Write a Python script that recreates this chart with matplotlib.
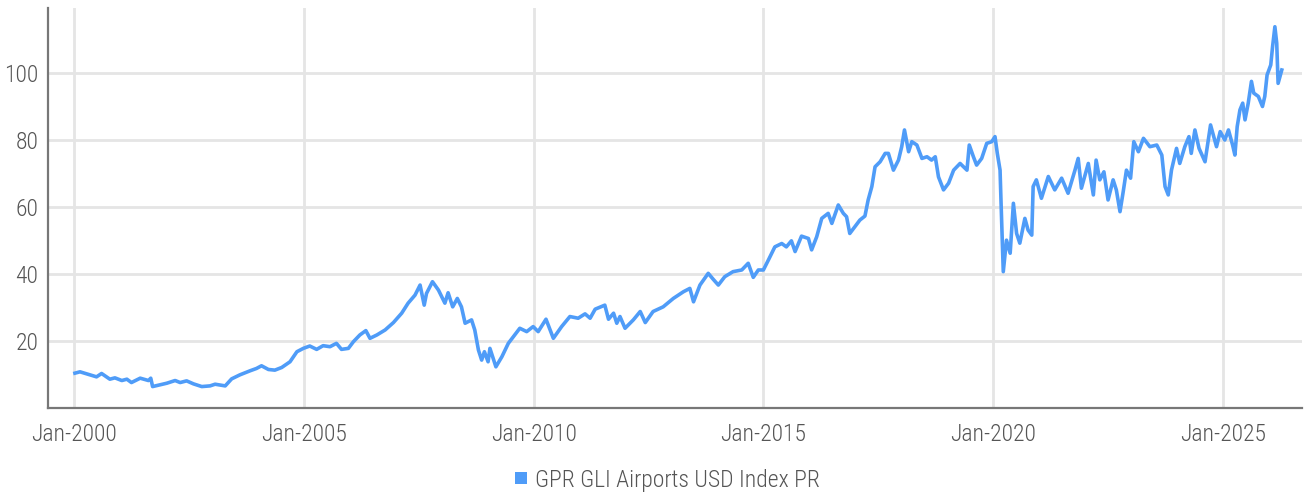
import matplotlib
matplotlib.use("Agg")
import matplotlib.pyplot as plt
from matplotlib import font_manager
from matplotlib.lines import Line2D

# GPR GLI Airports USD Index PR (decimal years)
years = [
    2000.02, 2000.13, 2000.35, 2000.49, 2000.60, 2000.78, 2000.89, 2001.04, 2001.15, 2001.25,
    2001.44, 2001.62, 2001.67, 2001.71, 2001.87, 2002.02, 2002.20, 2002.31, 2002.45, 2002.60,
    2002.78, 2002.96, 2003.07, 2003.29, 2003.43, 2003.61, 2003.83, 2003.97, 2004.08, 2004.23,
    2004.37, 2004.52, 2004.70, 2004.85, 2004.99, 2005.13, 2005.28, 2005.42, 2005.57, 2005.71,
    2005.82, 2005.97, 2006.08, 2006.22, 2006.35, 2006.44, 2006.59, 2006.77, 2006.95, 2007.13,
    2007.27, 2007.42, 2007.53, 2007.62, 2007.67, 2007.80, 2007.93, 2008.07, 2008.14, 2008.24,
    2008.34, 2008.43, 2008.51, 2008.65, 2008.72, 2008.80, 2008.87, 2008.93, 2009.01, 2009.05,
    2009.18, 2009.31, 2009.45, 2009.56, 2009.70, 2009.85, 2009.99, 2010.10, 2010.27, 2010.43,
    2010.61, 2010.79, 2010.97, 2011.12, 2011.23, 2011.34, 2011.55, 2011.63, 2011.74, 2011.81,
    2011.88, 2011.99, 2012.17, 2012.32, 2012.43, 2012.60, 2012.82, 2013.04, 2013.26, 2013.40,
    2013.48, 2013.62, 2013.80, 2013.91, 2014.02, 2014.16, 2014.34, 2014.53, 2014.67, 2014.78,
    2014.89, 2015.00, 2015.11, 2015.25, 2015.40, 2015.50, 2015.61, 2015.69, 2015.83, 2015.98,
    2016.05, 2016.16, 2016.27, 2016.41, 2016.49, 2016.63, 2016.74, 2016.81, 2016.88, 2016.99,
    2017.10, 2017.21, 2017.28, 2017.36, 2017.43, 2017.54, 2017.65, 2017.72, 2017.83, 2017.94,
    2018.01, 2018.07, 2018.16, 2018.23, 2018.34, 2018.45, 2018.56, 2018.66, 2018.74, 2018.81,
    2018.92, 2019.03, 2019.14, 2019.28, 2019.43, 2019.48, 2019.57, 2019.64, 2019.75, 2019.86,
    2019.97, 2020.04, 2020.09, 2020.15, 2020.17, 2020.22, 2020.29, 2020.37, 2020.44, 2020.51,
    2020.58, 2020.69, 2020.76, 2020.84, 2020.87, 2020.94, 2021.05, 2021.20, 2021.34, 2021.49,
    2021.63, 2021.78, 2021.85, 2021.92, 2022.07, 2022.18, 2022.24, 2022.32, 2022.41, 2022.50,
    2022.61, 2022.68, 2022.76, 2022.83, 2022.90, 2022.99, 2023.06, 2023.16, 2023.27, 2023.41,
    2023.56, 2023.67, 2023.74, 2023.81, 2023.88, 2023.99, 2024.06, 2024.17, 2024.26, 2024.31,
    2024.39, 2024.48, 2024.61, 2024.73, 2024.86, 2024.94, 2025.04, 2025.12, 2025.21, 2025.26,
    2025.31, 2025.37, 2025.43, 2025.48, 2025.55, 2025.62, 2025.67, 2025.77, 2025.86, 2025.91,
    2025.96, 2026.04, 2026.08, 2026.13, 2026.17, 2026.20, 2026.24, 2026.28,
]
values = [
    10.4, 10.8, 9.9, 9.3, 10.3, 8.6, 9.0, 8.2, 8.6, 7.6,
    8.9, 8.2, 8.9, 6.4, 6.9, 7.4, 8.2, 7.6, 8.1, 7.2,
    6.4, 6.6, 7.1, 6.6, 8.7, 9.9, 11.1, 11.8, 12.6, 11.5,
    11.3, 12.1, 13.8, 16.8, 17.8, 18.5, 17.5, 18.6, 18.3, 19.3,
    17.5, 17.8, 19.8, 21.8, 23.1, 20.8, 21.8, 23.3, 25.5, 28.3,
    31.3, 33.7, 36.7, 30.7, 34.2, 37.7, 35.2, 31.3, 34.4, 30.2,
    32.7, 30.2, 25.3, 26.3, 23.3, 17.3, 14.3, 16.8, 13.8, 17.8,
    12.3, 15.3, 19.3, 21.3, 23.8, 22.8, 24.3, 22.8, 26.5, 20.8,
    24.3, 27.3, 26.8, 28.1, 26.8, 29.5, 30.7, 26.5, 28.3, 25.3,
    27.3, 23.8, 26.3, 28.8, 25.5, 28.8, 30.2, 32.7, 34.7, 35.7,
    31.7, 36.7, 40.2, 38.4, 36.7, 39.2, 40.7, 41.2, 43.2, 39.0,
    41.2, 41.2, 44.2, 48.1, 49.1, 48.1, 49.9, 46.7, 51.3, 50.6,
    47.2, 51.1, 56.6, 58.1, 55.1, 60.6, 58.1, 57.1, 52.1, 54.1,
    56.1, 57.3, 62.1, 66.1, 72.0, 73.5, 76.0, 76.0, 71.0, 74.0,
    78.0, 83.0, 76.5, 79.5, 78.5, 74.5, 75.0, 74.0, 75.0, 69.0,
    65.1, 67.1, 71.0, 73.0, 71.0, 78.5, 75.0, 72.5, 74.5, 79.0,
    79.5, 81.0, 76.0, 71.0, 62.0, 40.7, 50.1, 46.2, 61.1, 52.1,
    49.2, 56.6, 53.1, 51.6, 66.1, 68.1, 62.6, 69.1, 65.1, 68.6,
    64.1, 71.0, 74.5, 65.6, 73.0, 63.6, 74.0, 68.1, 70.5, 62.1,
    68.1, 65.1, 58.6, 64.6, 71.0, 68.6, 79.5, 76.5, 80.5, 78.0,
    78.5, 75.5, 66.1, 63.6, 71.0, 77.5, 73.0, 78.0, 81.0, 76.0,
    83.0, 77.5, 73.5, 84.5, 78.0, 82.5, 80.0, 83.0, 78.5, 75.5,
    84.0, 89.0, 91.0, 86.0, 91.0, 97.5, 94.0, 93.0, 90.0, 93.0,
    99.4, 102.4, 107.9, 113.8, 108.9, 96.9, 98.9, 100.9,
]

tick_years = [2000, 2005, 2010, 2015, 2020, 2025]
tick_labels = ["Jan-2000", "Jan-2005", "Jan-2010", "Jan-2015", "Jan-2020", "Jan-2025"]
y_ticks = [20, 40, 60, 80, 100]
series_name = "GPR GLI Airports USD Index PR"

# pick a narrow font if one is around
installed = {f.name for f in font_manager.fontManager.ttflist}
family = "DejaVu Sans"
for cand in ["Roboto Condensed", "Barlow Semi Condensed", "Liberation Sans Narrow",
             "Open Sans Condensed", "Roboto", "Lato"]:
    if cand in installed:
        family = cand
        break
plt.rcParams["font.family"] = [family, "DejaVu Sans"]
plt.rcParams["font.weight"] = "light"

line_color = "#4f9cf8"
text_color = "#555555"
grid_color = "#e5e5e5"
fsize = 17

fig = plt.figure(figsize=(13.04, 4.93), dpi=100)
ax = fig.add_axes([48 / 1304, 1 - 408 / 493, (1302 - 48) / 1304, 400 / 493])

ax.plot(years, values, color=line_color, lw=2.6, solid_joinstyle="round")

ax.set_xlim(1999.434, 2026.72)
ax.set_ylim(0, 119.4)
ax.set_xticks(tick_years)
ax.set_xticklabels(tick_labels)
ax.set_yticks(y_ticks)

ax.grid(True, color=grid_color, lw=2)
ax.set_axisbelow(True)
for s in ["top", "right"]:
    ax.spines[s].set_visible(False)
for s in ["left", "bottom"]:
    ax.spines[s].set_color("#777777")
    ax.spines[s].set_linewidth(1.6)

ax.tick_params(length=0, labelsize=fsize, labelcolor=text_color)
ax.tick_params(axis="x", pad=11)
ax.tick_params(axis="y", pad=7)

handle = Line2D([], [], ls="none", marker="s", markersize=8,
                color=line_color, markeredgewidth=0)
fig.legend([handle], [series_name], loc="center", bbox_to_anchor=(667 / 1304, 1 - 480 / 493),
           frameon=False, fontsize=fsize, labelcolor=text_color,
           handlelength=0.6, handletextpad=0.3, borderpad=0)

fig.savefig("out.png", dpi=100)
